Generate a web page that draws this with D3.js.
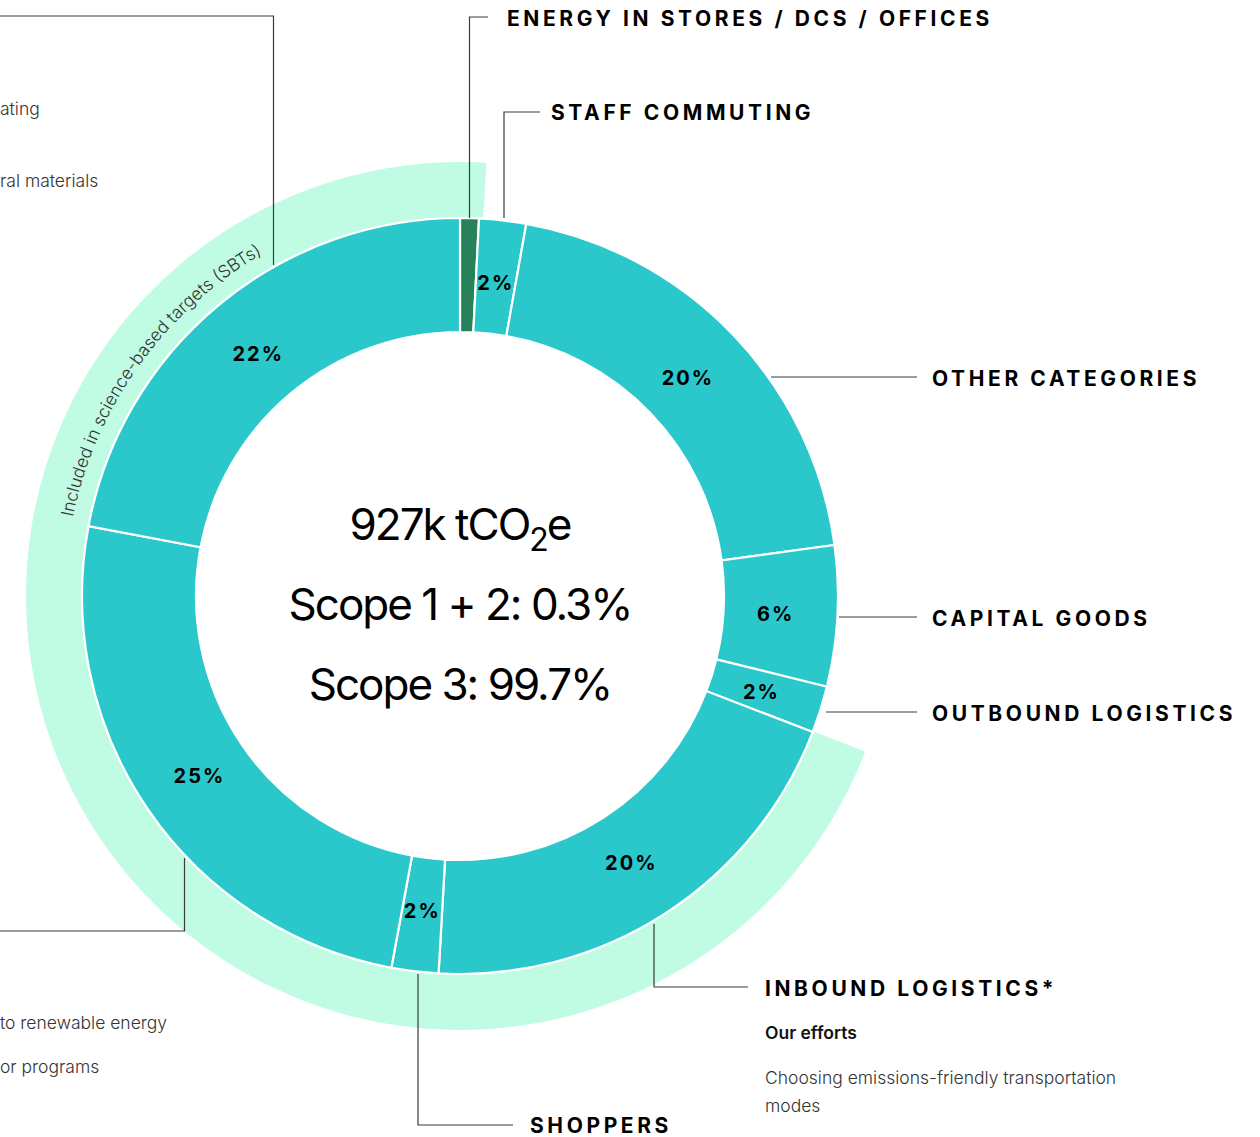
<!DOCTYPE html>
<html lang="en">
<head>
<meta charset="utf-8">
<title>Emissions breakdown</title>
<script src="https://cdn.jsdelivr.net/npm/d3@7"></script>
<style>
body { margin: 0; background: #fff; }
svg { display: block; font-family: Inter, "Noto Sans", sans-serif; }
.pct { font-weight: 700; font-size: 20px; letter-spacing: 2px; fill: #000; }
.cat { font-weight: 700; font-size: 21px; letter-spacing: 3.6px; fill: #000; }
.lead { fill: none; stroke: #3a3a3a; stroke-width: 1.2px; }
.note { font-size: 17.5px; font-weight: 300; fill: #333; }
.center { font-size: 44px; font-weight: 400; letter-spacing: -2px; fill: #000; }
</style>
</head>
<body>
<svg width="1260" height="1137"></svg>
<script>
// slices, clockwise from 12 o'clock
var categories = ['Energy in stores / DCs / offices', 'Staff commuting', 'Other categories', 'Capital goods',
                  'Outbound logistics', 'Inbound logistics*', 'Shoppers', 'Left A', 'Left B'];
var shares = [0.8, 2, 20, 6, 2, 20, 2, 25, 22];
var pctLabels = ['', '2%', '20%', '6%', '2%', '20%', '2%', '25%', '22%'];
var sliceColors = ['#27815b', '#2ac7cb', '#2ac7cb', '#2ac7cb', '#2ac7cb', '#2ac7cb', '#2ac7cb', '#2ac7cb', '#2ac7cb'];

// SBT band covers inbound logistics round to energy (degrees)
var sbtBand = [111, 363.5];
var sbtText = 'Included in science-based targets (SBTs)';

var centerLines = ['Scope 1 + 2: 0.3%', 'Scope 3: 99.7%'];

var cx = 460, cy = 596;
var rIn = 264, rOut = 378;
var svg = d3.select('svg');
var g = svg.append('g').attr('transform', 'translate(' + cx + ',' + cy + ')');
var rad = function(a) { return a * Math.PI / 180; };

//////// SBT BAND ////////
g.append('path')
  .attr('d', d3.arc()({innerRadius: 379, outerRadius: 434, startAngle: rad(sbtBand[0]), endAngle: rad(sbtBand[1])}))
  .attr('fill', '#c0fbe4');

var a0 = rad(281.5), a1 = rad(340), rt = 395;
var p0 = d3.pointRadial(a0, rt), p1 = d3.pointRadial(a1, rt);
g.append('path').attr('id', 'sbtPath').attr('fill', 'none')
  .attr('d', 'M' + p0[0] + ',' + p0[1] + ' A' + rt + ',' + rt + ' 0 0 1 ' + p1[0] + ',' + p1[1]);
g.append('text').attr('class', 'note').style('font-size', '17.5px').attr('fill', '#222')
  .append('textPath').attr('href', '#sbtPath').text(sbtText);

//////// DONUT ////////
var pie = d3.pie().sort(null).value(function(d) { return d; });
var arcs = pie(shares);
var arc = d3.arc().innerRadius(rIn).outerRadius(rOut);
var labelArc = d3.arc().innerRadius(316).outerRadius(316);

g.selectAll('path.slice')
  .data(arcs)
  .enter().append('path')
  .attr('class', 'slice')
  .attr('d', arc)
  .attr('fill', function(d, i) { return sliceColors[i]; })
  .attr('stroke', '#fff')
  .attr('stroke-width', 2.2);

g.selectAll('text.pct')
  .data(arcs)
  .enter().append('text')
  .attr('class', 'pct')
  .attr('text-anchor', 'middle')
  .attr('dy', '0.4em')
  .attr('transform', function(d) { return 'translate(' + labelArc.centroid(d) + ')'; })
  .text(function(d, i) { return pctLabels[i]; });

//////// CENTRE ////////
var t1 = g.append('text').attr('class', 'center').attr('text-anchor', 'middle').attr('y', -56);
t1.append('tspan').text('927k tCO');
t1.append('tspan').attr('dy', 11).style('font-size', '32px').text('2');
t1.append('tspan').attr('dy', -11).text('e');
g.selectAll('text.cl')
  .data(centerLines)
  .enter().append('text')
  .attr('class', 'center')
  .attr('text-anchor', 'middle')
  .attr('y', function(d, i) { return 24 + i * 80; })
  .text(function(d) { return d; });

//////// CALLOUTS ////////
var callouts = [
  {pts: [[469.5, 218], [469.5, 17], [488, 17]], label: 'ENERGY IN STORES / DCS / OFFICES', x: 507, y: 18},
  {pts: [[504, 218], [504, 112], [540, 112]], label: 'STAFF COMMUTING', x: 551, y: 112},
  {pts: [[771, 377], [917, 377]], label: 'OTHER CATEGORIES', x: 932, y: 378},
  {pts: [[839, 617], [917, 617]], label: 'CAPITAL GOODS', x: 932, y: 618},
  {pts: [[826, 712], [917, 712]], label: 'OUTBOUND LOGISTICS', x: 932, y: 713},
  {pts: [[654, 924], [654, 987], [748, 987]], label: 'INBOUND LOGISTICS*', x: 765, y: 988},
  {pts: [[418, 974], [418, 1125], [513, 1125]], label: 'SHOPPERS', x: 530, y: 1125},
  {pts: [[273.5, 265], [273.5, 16], [-5, 16]], label: '', x: 0, y: 0},
  {pts: [[184.5, 858], [184.5, 931], [-5, 931]], label: '', x: 0, y: 0}
];
var line = d3.line();
svg.selectAll('path.lead')
  .data(callouts)
  .enter().append('path')
  .attr('class', 'lead')
  .attr('d', function(d) { return line(d.pts); });
svg.selectAll('text.cat')
  .data(callouts.filter(function(d) { return d.label; }))
  .enter().append('text')
  .attr('class', 'cat')
  .attr('x', function(d) { return d.x; })
  .attr('y', function(d) { return d.y; })
  .attr('dy', '0.36em')
  .text(function(d) { return d.label; });

// notes
var notes = [
  {t: 'ating', x: 0, y: 115},
  {t: 'ral materials', x: 0, y: 187},
  {t: 'to renewable energy', x: 0, y: 1029},
  {t: 'or programs', x: 0, y: 1073},
  {t: 'Choosing emissions-friendly transportation', x: 765, y: 1084},
  {t: 'modes', x: 765, y: 1112}
];
svg.selectAll('text.nt')
  .data(notes)
  .enter().append('text')
  .attr('class', 'note')
  .attr('x', function(d) { return d.x; })
  .attr('y', function(d) { return d.y; })
  .text(function(d) { return d.t; });
svg.append('text').attr('x', 765).attr('y', 1039)
  .style('font-size', '17.5px').style('font-weight', 600).attr('fill', '#111')
  .text('Our efforts');
</script>
</body>
</html>
